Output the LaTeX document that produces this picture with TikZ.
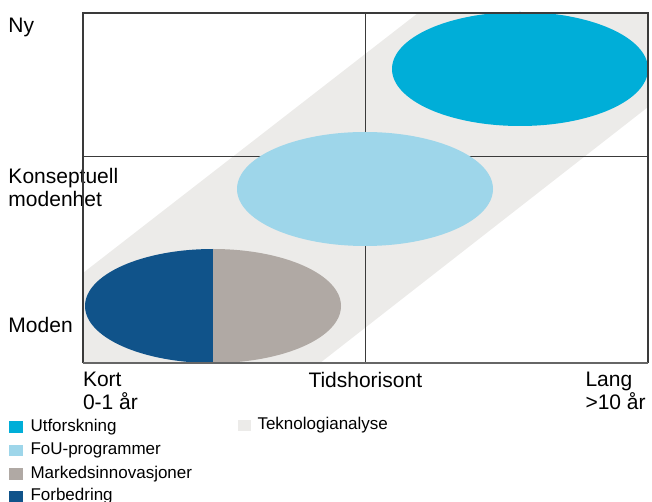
\documentclass[tikz,border=0pt]{standalone}
\usepackage{fontspec}
\setmainfont{Liberation Sans}
\usetikzlibrary{shapes.geometric}
\definecolor{UtfBlue}{HTML}{00AED8}
\definecolor{FoUBlue}{HTML}{9ED6EA}
\definecolor{MarkGray}{HTML}{B0A9A4}
\definecolor{ForbBlue}{HTML}{10538A}
\definecolor{TekGray}{HTML}{ECEBE9}
\definecolor{GridLine}{HTML}{3A3A3A}

\begin{document}
\begin{tikzpicture}[x=1pt, y=-1pt,
		every node/.style={inner sep=0pt, outer sep=0pt},
		axislabel/.style={font=\fontsize{21}{23.5}\selectfont, align=left, anchor=north west},
		legtext/.style={font=\fontsize{17}{19}\selectfont, anchor=base west},
		legbox/.style={minimum width=13.5pt, minimum height=11.5pt, anchor=north west},
		blob/.style={ellipse, minimum width=256pt, minimum height=114pt}]
		\useasboundingbox (0,0) rectangle (652,502);

		% Rammen
		\coordinate (tl) at (83,13);
		\coordinate (tr) at (648,13);
		\coordinate (bl) at (83,363);
		\coordinate (br) at (648,363);
		\coordinate (midt) at (365,13);
		\coordinate (midb) at (365,363);
		\coordinate (midl) at (83,156);
		\coordinate (midr) at (648,156);

		% Teknologianalyse-bånd
		\fill[TekGray] (83,273) -- (418,13) -- (tr) -- (648,107) -- (320,363) -- (bl) -- cycle;

		% Indre linjer
		\draw[GridLine, line width=0.9pt] (midt) -- (midb);
		\draw[GridLine, line width=0.9pt] (midl) -- (midr);

		% Ellipsene
		\node[blob, fill=UtfBlue] (utforskning) at (520,69) {};
		\node[blob, fill=FoUBlue] (fou) at (365,189) {};
		\node[blob] (moden) at (213,306) {};
		\fill[ForbBlue] (moden.north) arc[start angle=90, end angle=270, x radius=128pt, y radius=57pt] -- cycle;
		\fill[MarkGray] (moden.north) arc[start angle=90, end angle=-90, x radius=128pt, y radius=57pt] -- cycle;

		% Aksetekster
		\node[axislabel] (ny) at (8.5,18) {Ny};
		\node[axislabel] (konsept) at (8.5,168) {Konseptuell\\modenhet};
		\node[axislabel] (modenlbl) at (8.5,317) {Moden};
		\node[axislabel] (kort) at (83,372) {Kort\\0-1 år};
		\node[axislabel] (tid) at (308.5,372) {Tidshorisont};
		\node[axislabel] (lang) at (585.5,372) {Lang\\>10 år};

		% Ytterramme
		\draw[GridLine, line width=1.1pt] (bl) -- (tl) -- (tr) -- (br);
		\draw[black!60, line width=1.6pt] (bl) -- (br);

		% Tegnforklaring
		\node[legbox, fill=UtfBlue] (leg1) at (9,421) {};
		\node[legtext] at (30.5,431) {Utforskning};
		\node[legbox, fill=FoUBlue] (leg2) at (9,444.5) {};
		\node[legtext] at (30.5,454.5) {FoU-programmer};
		\node[legbox, fill=MarkGray] (leg3) at (9,468) {};
		\node[legtext] at (30.5,478) {Markedsinnovasjoner};
		\node[legbox, fill=ForbBlue] (leg4) at (9,490.5) {};
		\node[legtext] at (30.5,500.5) {Forbedring};
		\node[legbox, fill=TekGray] (leg5) at (237.5,419.5) {};
		\node[legtext] at (257.5,429.5) {Teknologianalyse};
	\end{tikzpicture}
\end{document}
